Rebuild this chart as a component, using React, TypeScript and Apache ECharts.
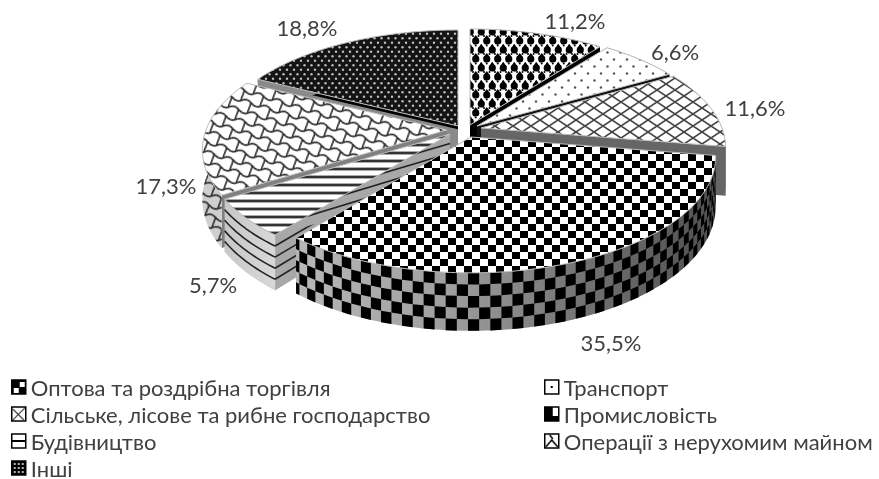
import React, { useEffect, useRef } from "react";
import * as echarts from "echarts";

const sectorNames = [
  "Оптова та роздрібна торгівля",
  "Транспорт",
  "Сільське, лісове та рибне господарство",
  "Промисловість",
  "Будівництво",
  "Операції з нерухомим майном",
  "Інші",
];
const sectorValues = [11.2, 6.6, 11.6, 35.5, 5.7, 17.3, 18.8];

// layout, index-aligned with the sectors
const apexX = [470, 477, 481, 471, 450, 447, 458];
const apexY = [125, 126, 128, 137, 134, 130, 126];
const labelX = [575, 675, 755, 611, 213, 166, 307];
const labelY = [20, 51, 107, 342, 284, 185, 27];
const faceColors = ["#000", "#111", "#666", "#000", "#a8a8a8", "#808080", "#8a8a8a"];
const drawOrder = [0, 6, 1, 2, 5, 4, 3];

const A = 241, B = 112.5, K = 0.172, D = 48;
const FONT = "Lato, 'Open Sans', 'Noto Sans', sans-serif";
const TEXT = "#404040";

const RAD = Math.PI / 180;
const total = sectorValues.reduce((a, b) => a + b, 0);
const cumulative = sectorValues.map((_, i) =>
  (sectorValues.slice(0, i).reduce((a, b) => a + b, 0) / total) * 360
);

function proj(i: number, deg: number, z = 0, r = 1): number[] {
  const th = deg * RAD;
  const u = Math.sin(th) * r;
  const v = -Math.cos(th) * r;
  const s = 1 / (1 - K * v);
  return [apexX[i] + A * u * s, apexY[i] + B * v * s + D * z * s];
}
function arc(i: number, a0: number, a1: number, z = 0, step = 1): number[][] {
  const n = Math.max(1, Math.ceil(Math.abs(a1 - a0) / step));
  const out: number[][] = [];
  for (let k = 0; k <= n; k++) out.push(proj(i, a0 + ((a1 - a0) * k) / n, z));
  return out;
}

function tile(w: number, h: number, draw: (c: CanvasRenderingContext2D) => void, bg = "#fff") {
  const cv = document.createElement("canvas");
  cv.width = w;
  cv.height = h;
  const c = cv.getContext("2d")!;
  if (bg !== "none") {
    c.fillStyle = bg;
    c.fillRect(0, 0, w, h);
  }
  draw(c);
  return cv;
}
const pat = (cv: HTMLCanvasElement, extra: any = {}) => ({ image: cv, repeat: "repeat", ...extra });

function dots(c: CanvasRenderingContext2D, pts: number[][], r: number, color: string) {
  c.fillStyle = color;
  pts.forEach(([x, y]) => {
    c.beginPath();
    c.arc(x, y, r, 0, Math.PI * 2);
    c.fill();
  });
}

function buildPatterns() {
  const drops = tile(11, 18, (c) => {
    c.fillStyle = "#000";
    [[2.75, 5], [13.75, 5], [8.25, 14], [-2.75, 14], [2.75, 23], [13.75, 23], [8.25, -4]].forEach(([x, y]) => {
      c.beginPath();
      c.arc(x, y, 3.6, 0, Math.PI * 2);
      c.fill();
      c.beginPath();
      c.moveTo(x - 3, y - 2);
      c.lineTo(x, y - 6);
      c.lineTo(x + 3, y - 2);
      c.fill();
    });
    dots(c, [[0, 0], [5.5, 0], [11, 0], [0, 18], [5.5, 18], [11, 18], [2.75, 9.5], [8.25, 9.5]], 1, "#000");
  });
  const sparse = tile(13, 14, (c) => {
    dots(c, [[3, 3.5], [9.5, 10.5]], 1.2, "#555");
  });
  const hatch = tile(18, 12, (c) => {
    c.strokeStyle = "#444";
    c.lineWidth = 1.6;
    c.beginPath();
    c.moveTo(0, 0);
    c.lineTo(18, 12);
    c.moveTo(18, 0);
    c.lineTo(0, 12);
    c.stroke();
  });
  const checker = tile(16, 14, (c) => {
    c.fillStyle = "#000";
    c.fillRect(0, 0, 8, 7);
    c.fillRect(8, 7, 8, 7);
  });
  const stripes = tile(8, 8, (c) => {
    c.fillStyle = "#333";
    c.fillRect(0, 0, 8, 2);
    c.fillStyle = "#aaa";
    c.fillRect(0, 2, 8, 1);
    c.fillRect(0, 7, 8, 1);
  });
  const shingleDraw = (c: CanvasRenderingContext2D) => {
    c.strokeStyle = "#2a2a2a";
    c.lineWidth = 1.6;
    for (let row = -1; row <= 2; row++) {
      for (let col = -1; col <= 2; col++) {
        const x = col * 20 + (row % 2 ? 10 : 0);
        const y = row * 10;
        c.beginPath();
        c.moveTo(x, y + 5);
        c.bezierCurveTo(x + 3, y + 2, x + 7, y + 2, x + 10, y + 4);
        c.bezierCurveTo(x + 13, y + 6, x + 17, y + 7, x + 20, y + 5);
        c.stroke();
        c.beginPath();
        c.moveTo(x + 10, y + 4);
        c.bezierCurveTo(x + 11, y + 7, x + 9, y + 11, x + 10, y + 15);
        c.stroke();
      }
    }
  };
  const shingle = tile(20, 20, shingleDraw);
  const shingleWall = tile(20, 20, shingleDraw, "none");
  const dense = tile(14, 9, (c) => {
    dots(c, [[3.5, 2.25], [10.5, 2.25], [0, 6.75], [7, 6.75], [14, 6.75]], 1.2, "#bbb");
  }, "#141414");
  return { drops, sparse, hatch, checker, stripes, shingle, shingleWall, dense };
}

function buildIcons() {
  const s = 14;
  return [
    tile(s, s, (c) => {
      c.fillStyle = "#000";
      c.fillRect(0, 0, s, s);
      c.fillStyle = "#fff";
      c.fillRect(8, 2, 5, 5);
      c.fillRect(2, 8, 5, 5);
    }),
    tile(s, s, (c) => {
      c.fillStyle = "#000";
      c.fillRect(6, 6, 2, 2);
    }),
    tile(s, s, (c) => {
      c.strokeStyle = "#333";
      c.lineWidth = 1.1;
      c.beginPath();
      c.moveTo(0, 14);
      c.lineTo(14, 0);
      c.moveTo(1, 2);
      c.lineTo(12, 13);
      c.stroke();
    }),
    tile(s, s, (c) => {
      c.fillStyle = "#000";
      c.fillRect(0, 0, 8, 14);
      c.fillRect(8, 9, 6, 5);
    }),
    tile(s, s, (c) => {
      c.fillStyle = "#000";
      c.fillRect(0, 6, 14, 2);
    }),
    tile(s, s, (c) => {
      c.strokeStyle = "#000";
      c.lineWidth = 1.5;
      c.beginPath();
      c.moveTo(1, 13);
      c.lineTo(7, 6);
      c.lineTo(13, 13);
      c.moveTo(5, 1);
      c.lineTo(8, 5);
      c.stroke();
    }),
    tile(s, s, (c) => {
      c.fillStyle = "#000";
      c.fillRect(0, 0, s, s);
      dots(c, [[3, 3], [7, 3], [11, 3], [3, 7], [7, 7], [11, 7], [3, 11], [7, 11], [11, 11]], 1.1, "#ddd");
    }),
  ];
}

export default function App() {
  const ref = useRef<HTMLDivElement>(null);
  useEffect(() => {
    document.body.style.margin = "0";
    const chart = echarts.init(ref.current!, undefined, { renderer: "svg" });
    const P = buildPatterns();
    const icons = buildIcons();
    const LG = (stops: [number, string][]) =>
      new echarts.graphic.LinearGradient(0, 0, 1, 0, stops.map(([offset, color]) => ({ offset, color })));

    const topFills: any[] = [
      pat(P.drops),
      pat(P.sparse),
      pat(P.hatch),
      pat(P.checker),
      pat(P.stripes),
      pat(P.shingle, { rotation: 0.3 }),
      pat(P.dense),
    ];

    const poly = (points: number[][], style: any) => ({ type: "polygon", shape: { points }, style, silent: true });
    const line = (points: number[][], stroke: string, lineWidth: number) => ({
      type: "polyline",
      shape: { points },
      style: { stroke, lineWidth, fill: "none" },
      silent: true,
    });

    const renderSector = (i: number) => (_params: any, api: any) => {
      const value = api.value(0);
      const a0 = cumulative[i];
      const a1 = a0 + (value / total) * 360;
      const apex = [apexX[i], apexY[i]];
      const kids: any[] = [];

      const face = (deg: number) => {
        const r0 = proj(i, deg, 0);
        const r1 = proj(i, deg, 1);
        const bottomApex = [apex[0], apex[1] + D];
        kids.push(poly([apex, r0, r1, bottomApex], { fill: faceColors[i] }));
        if (i === 6) {
          const f = 0.07;
          const mid = (p: number[], q: number[]) => [p[0] + (q[0] - p[0]) * f, p[1] + (q[1] - p[1]) * f];
          kids.push(poly([apex, r0, mid(r0, r1), mid(apex, bottomApex)], { fill: "#000" }));
        }
        if (i === 4) {
          for (let n = 1; n <= 4; n++) {
            const t = n / 5;
            const m = (p: number[], q: number[]) => [p[0] + (q[0] - p[0]) * t, p[1] + (q[1] - p[1]) * t];
            kids.push(line([m(apex, bottomApex), m(r0, r1)], "#222", 1.6));
          }
        }
      };
      face(a0);
      face(a1);

      const wall = arc(i, a0, a1, 0).concat(arc(i, a1, a0, 1));
      if (i === 3) {
        kids.push(poly(wall, { fill: LG([[0, "#b8b8b8"], [0.35, "#a0a0a0"], [0.75, "#6a6a6a"], [1, "#505050"]]) }));
        const step = 2.2;
        const rows = 5;
        for (let j = 0; j < rows; j++) {
          for (let c = 0; a0 + c * step < a1; c++) {
            if ((c + j) % 2) continue;
            const b0 = a0 + c * step;
            const b1 = Math.min(a1, b0 + step);
            kids.push(
              poly([proj(i, b0, j / rows), proj(i, b1, j / rows), proj(i, b1, (j + 1) / rows), proj(i, b0, (j + 1) / rows)], {
                fill: "#000",
              })
            );
          }
        }
      } else if (i === 4) {
        kids.push(poly(wall, { fill: LG([[0, "#c8c8c8"], [1, "#d8d8d8"]]) }));
        for (let n = 1; n <= 4; n++) kids.push(line(arc(i, a0, a1, n / 5), "#222", 1.6));
      } else if (i === 5) {
        kids.push(poly(wall, { fill: "#cfcfcf" }));
        kids.push(poly(wall, { fill: pat(P.shingleWall, { rotation: 0.3 }) }));
      } else {
        kids.push(poly(wall, { fill: faceColors[i] }));
      }

      const top = [apex].concat(arc(i, a0, a1, 0));
      kids.push(poly(top, { fill: topFills[i], stroke: "#bdbdbd", lineWidth: 1 }));

      kids.push({
        type: "text",
        silent: true,
        style: {
          text: value.toFixed(1).replace(".", ",") + "%",
          x: labelX[i],
          y: labelY[i],
          textAlign: "center",
          textVerticalAlign: "middle",
          fill: TEXT,
          fontSize: 22,
          fontFamily: FONT,
        },
      });
      return { type: "group", children: kids };
    };

    const legendData = (idx: number[]) =>
      idx.map((i) => ({
        name: sectorNames[i],
        icon: "rect",
        itemStyle: { color: { image: icons[i], repeat: "no-repeat" }, borderColor: "#000", borderWidth: 1.5, opacity: 1 },
      }));
    const legendBase = {
      orient: "vertical",
      itemWidth: 14,
      itemHeight: 14,
      itemGap: 5,
      height: 112,
      selectedMode: false,
      padding: 0,
      textStyle: { color: TEXT, fontSize: 22, fontFamily: FONT },
    };

    chart.setOption({
      animation: false,
      backgroundColor: "#fff",
      legend: [
        { ...legendBase, left: 11, top: 376, data: legendData([0, 2, 4, 6]) },
        { ...legendBase, left: 544, top: 376, data: legendData([1, 3, 5]) },
      ],
      series: drawOrder.map((i, order) => ({
        type: "custom",
        name: sectorNames[i],
        coordinateSystem: "none",
        z: 2 + order,
        silent: true,
        itemStyle: { color: "#888" },
        data: [[sectorValues[i]]],
        renderItem: renderSector(i),
      })),
    });
    return () => chart.dispose();
  }, []);
  return <div ref={ref} style={{ position: "absolute", left: 0, top: 0, width: 879, height: 479, filter: "blur(0.4px)" }} />;
}
